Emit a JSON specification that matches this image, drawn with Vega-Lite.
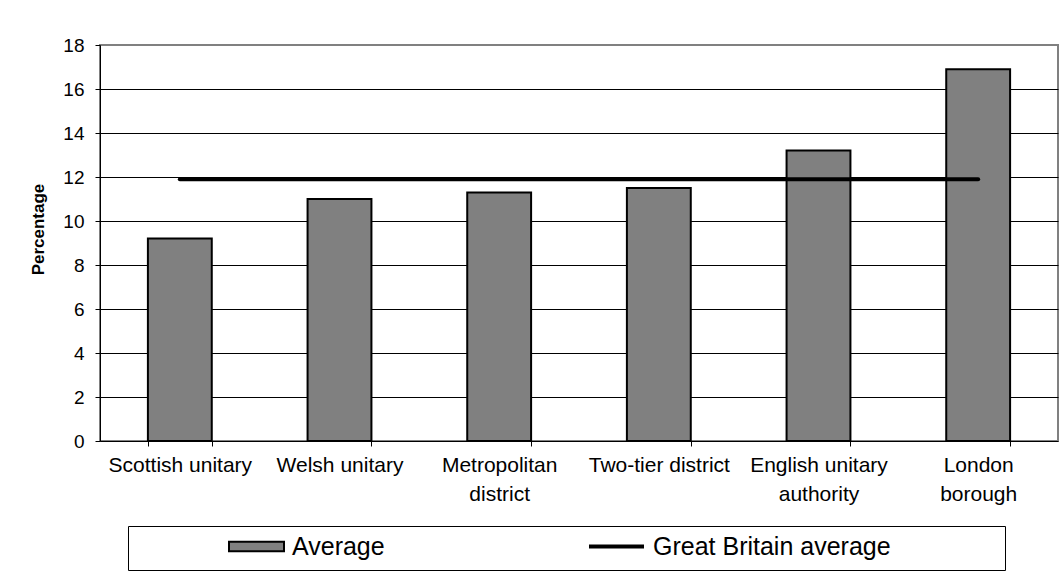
{
  "$schema": "https://vega.github.io/schema/vega-lite/v6.json",
  "width": 958,
  "height": 396,
  "autosize": "none",
  "padding": {"left": 100, "top": 45, "right": 6, "bottom": 144},
  "background": "white",
  "config": {
    "font": "Liberation Sans",
    "view": {"stroke": "#808080", "strokeWidth": 2}
  },
  "data": {
    "values": [
      {"type": "Scottish unitary", "average": 9.2, "gb": 11.9},
      {"type": "Welsh unitary", "average": 11.0, "gb": 11.9},
      {"type": "Metropolitan district", "average": 11.3, "gb": 11.9},
      {"type": "Two-tier district", "average": 11.5, "gb": 11.9},
      {"type": "English unitary authority", "average": 13.2, "gb": 11.9},
      {"type": "London borough", "average": 16.9, "gb": 11.9}
    ]
  },
  "encoding": {
    "x": {
      "field": "type",
      "type": "nominal",
      "sort": null,
      "scale": {"paddingInner": 0.6, "paddingOuter": 0.3},
      "axis": {
        "title": null,
        "labelAngle": 0,
        "labelFontSize": 21,
        "labelColor": "#000",
        "labelPadding": 8,
        "labelLineHeight": 29,
        "labelBaseline": "top",
        "labelLimit": 0,
        "tickBand": "extent",
        "tickSize": 5,
        "tickColor": "#000",
        "domainColor": "#000",
        "labelExpr": "datum.value == 'Metropolitan district' ? ['Metropolitan', 'district'] : datum.value == 'English unitary authority' ? ['English unitary', 'authority'] : datum.value == 'London borough' ? ['London', 'borough'] : datum.value"
      }
    }
  },
  "layer": [
    {
      "mark": {"type": "bar", "stroke": "#000", "strokeWidth": 2},
      "encoding": {
        "y": {
          "field": "average",
          "type": "quantitative",
          "scale": {"domain": [0, 18]},
          "axis": {
            "title": "Percentage",
            "titleFontSize": 17,
            "titleFontWeight": "bold",
            "titleColor": "#000",
            "titlePadding": 15,
            "titleY": 184,
            "values": [0, 2, 4, 6, 8, 10, 12, 14, 16, 18],
            "labelFontSize": 19,
            "labelColor": "#000",
            "labelPadding": 11,
            "tickSize": 5,
            "tickColor": "#000",
            "domainColor": "#000",
            "gridColor": {"condition": {"test": "datum.value == 18 || datum.value == 0", "value": "transparent"}, "value": "#000"},
            "gridWidth": 1
          }
        },
        "fill": {
          "datum": "Average",
          "type": "nominal",
          "scale": {"domain": ["Average"], "range": ["#808080"]},
          "legend": {
            "title": null,
            "orient": "none",
            "legendX": 118,
            "legendY": 481,
            "padding": 10,
            "labelFontSize": 25,
            "labelColor": "#000",
            "labelLimit": 0,
            "labelOffset": 7,
            "symbolType": "M-1,-0.17H1V0.17H-1Z",
            "symbolSize": 3025,
            "symbolStrokeColor": "#000",
            "symbolStrokeWidth": 2,
            "symbolOpacity": 1,
            "clipHeight": 21,
            "zindex": 2
          }
        }
      }
    },
    {
      "mark": {"type": "line", "strokeWidth": 4, "strokeCap": "round"},
      "encoding": {
        "y": {"field": "gb", "type": "quantitative"},
        "stroke": {
          "datum": "Great Britain average",
          "type": "nominal",
          "scale": {"domain": ["Great Britain average"], "range": ["#000000"]},
          "legend": {
            "title": null,
            "orient": "none",
            "legendX": 28,
            "legendY": 481,
            "padding": 10,
            "strokeColor": "#000",
            "fillColor": "#fff",
            "labelFontSize": 25,
            "labelColor": "#000",
            "labelLimit": 0,
            "labelOffset": 7,
            "symbolType": "M-1,0H1",
            "symbolSize": 3025,
            "symbolStrokeWidth": 4,
            "symbolStrokeColor": "#000",
            "symbolOffset": 449,
            "clipHeight": 21,
            "zindex": 1,
            "labelExpr": "datum.label + '\u00a0\u00a0\u2800\u2800\u2800\u2800\u2800'"
          }
        }
      }
    }
  ]
}
